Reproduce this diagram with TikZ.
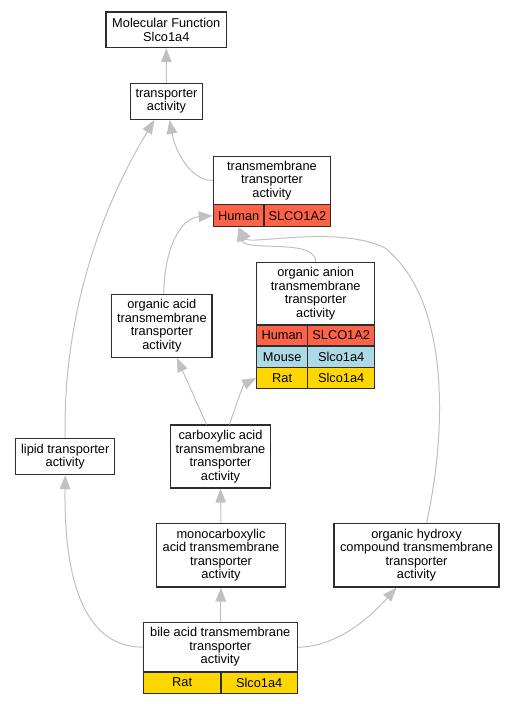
\documentclass[tikz,border=0pt]{standalone}
\usepackage{fontspec}
\setmainfont{Liberation Sans}
\usetikzlibrary{arrows.meta}
\definecolor{edgegray}{RGB}{192,192,192}
\definecolor{human}{RGB}{255,99,71}
\definecolor{mouse}{RGB}{173,216,230}
\definecolor{rat}{RGB}{255,215,0}
\definecolor{border}{RGB}{45,45,45}
\newcommand\nf{\fontsize{12.8}{13.5}\selectfont}
\begin{document}
\begin{tikzpicture}[x=1pt,y=-1pt,
  box/.style={draw=border, line width=1.1pt, fill=white, inner sep=0pt, align=center, font=\nf},
  cell/.style={draw=border, line width=1.1pt, inner sep=0pt, align=center, font=\nf},
  edge/.style={draw=edgegray, line width=1pt, -{Triangle[length=14pt,width=10.5pt]}}]
\useasboundingbox (0,0) rectangle (513,704);

% nodes
\node[box, minimum width=120.7, minimum height=35.7] (mf) at (166.3,29.8) {Molecular Function\\Slco1a4};
\node[box, minimum width=71.6, minimum height=36] (ta) at (166.5,101.3) {transporter\\activity};

\node[box, minimum width=117.4, minimum height=48.5] (tta) at (272,180.4) {transmembrane\\transporter\\activity};
\node[cell, fill=human, minimum width=50.7, minimum height=22] (ttaH) at (238.65,215.7) {Human};
\node[cell, fill=human, minimum width=66.7, minimum height=22] (ttaS) at (297.35,215.7) {SLCO1A2};

\node[box, minimum width=118, minimum height=62.7] (oa) at (315.7,293.65) {organic anion\\transmembrane\\transporter\\activity};
\node[cell, fill=human, minimum width=51, minimum height=21] (oaH) at (282.2,335.5) {Human};
\node[cell, fill=human, minimum width=67, minimum height=21] (oaHg) at (341.2,335.5) {SLCO1A2};
\node[cell, fill=mouse, minimum width=51, minimum height=21.7] (oaM) at (282.2,356.85) {Mouse};
\node[cell, fill=mouse, minimum width=67, minimum height=21.7] (oaMg) at (341.2,356.85) {Slco1a4};
\node[cell, fill=rat, minimum width=51, minimum height=20.6] (oaR) at (282.2,378) {Rat};
\node[cell, fill=rat, minimum width=67, minimum height=20.6] (oaRg) at (341.2,378) {Slco1a4};

\node[box, minimum width=100.3, minimum height=63] (oacid) at (161.85,325.8) {organic acid\\transmembrane\\transporter\\activity};
\node[box, minimum width=99, minimum height=36] (lipid) at (65.2,456.7) {lipid transporter\\activity};
\node[box, minimum width=100.4, minimum height=63] (carb) at (220.5,456.5) {carboxylic acid\\transmembrane\\transporter\\activity};
\node[box, minimum width=128.6, minimum height=63.3] (mono) at (221,555.35) {monocarboxylic\\acid transmembrane\\transporter\\activity};
\node[box, minimum width=165, minimum height=63.3] (hyd) at (416.5,555.35) {organic hydroxy\\compound transmembrane\\transporter\\activity};

\node[box, minimum width=154, minimum height=49.7] (bile) at (220.3,647.15) {bile acid transmembrane\\transporter\\activity};
\node[cell, fill=rat, minimum width=77.7, minimum height=21.3] (bileR) at (182.15,682.65) {Rat};
\node[cell, fill=rat, minimum width=76.3, minimum height=21.3] (bileG) at (259.15,682.65) {Slco1a4};

% edges
\draw[edge] (ta.north) -- (mf.south);
\draw[edge] (tta.west) .. controls (190,181) and (175,150) .. ([xshift=3]ta.south);
\draw[edge] (lipid.north) .. controls (63,340) and (88,230) .. ([xshift=-12]ta.south);
\draw[edge] ([xshift=2]oacid.north) .. controls (164,250) and (180,218) .. (ttaH.west);
\draw[edge] (oa.north) .. controls (316,238) and (245,252) .. (ttaH.south);
\draw[edge] ([xshift=10]hyd.north) .. controls (447,430) and (450,300) .. (385,248) .. controls (340,225) and (250,245) .. (ttaH.south);
\draw[edge] ([xshift=-14]carb.north) -- ([xshift=15]oacid.south);
\draw[edge] ([xshift=9]carb.north) .. controls (236,405) and (243,385) .. (oaR.west);
\draw[edge] (mono.north) -- (carb.south);
\draw[edge] (bile.north) -- (mono.south);
\draw[edge] (bile.west) .. controls (80,647) and (64,570) .. (lipid.south);
\draw[edge] (bile.east) .. controls (340,647) and (375,612) .. ([xshift=-20]hyd.south);
\end{tikzpicture}
\end{document}
